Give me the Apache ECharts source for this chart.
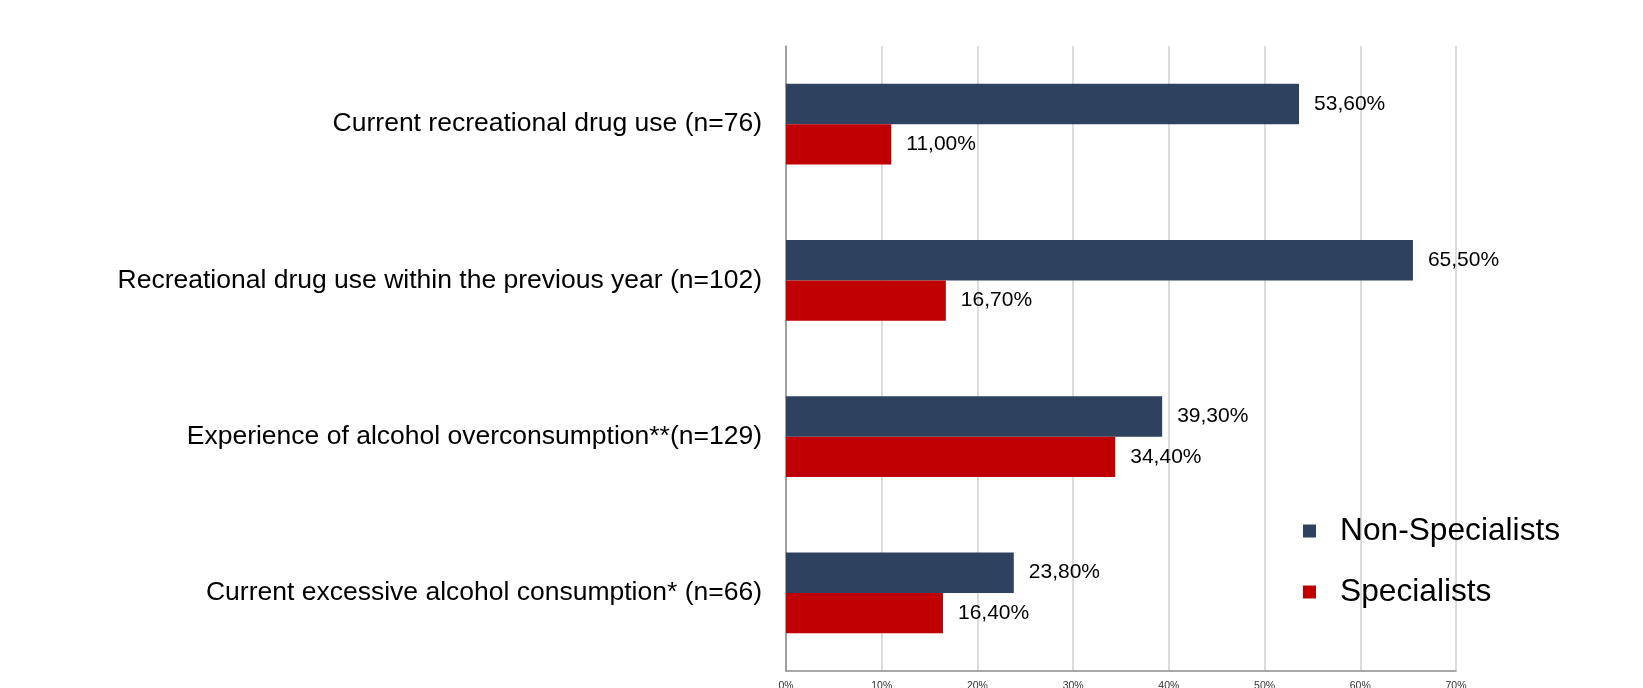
<!DOCTYPE html>
<html>
<head>
<meta charset="utf-8">
<script src="https://cdn.jsdelivr.net/npm/echarts@6/dist/echarts.min.js"></script>
<style>
html,body{margin:0;padding:0;background:#fff;}
#chart{width:1643px;height:688px;}
</style>
</head>
<body>
<div id="chart"></div>
<script>
const categories = [
  "Current recreational drug use (n=76)",
  "Recreational drug use within the previous year (n=102)",
  "Experience of alcohol overconsumption**(n=129)",
  "Current excessive alcohol consumption* (n=66)"
];
const seriesNames = ["Non-Specialists", "Specialists"];
const nonSpecialists = [53.6, 65.5, 39.3, 23.8];
const specialists = [11.0, 16.7, 34.4, 16.4];
const xTicks = [0, 10, 20, 30, 40, 50, 60, 70];

const FONT = "'Liberation Sans', Arial, sans-serif";
const fmt = v => v.toFixed(2).replace('.', ',') + '%';

const chart = echarts.init(document.getElementById('chart'), null, {renderer: 'canvas'});
chart.setOption({
  animation: false,
  backgroundColor: '#fff',
  textStyle: {fontFamily: FONT},
  grid: {left: 786, right: 187, top: 46, bottom: 17, containLabel: false, outerBoundsMode: 'none'},
  legend: {
    orient: 'vertical',
    left: 1298,
    top: 510,
    itemWidth: 13,
    itemHeight: 13,
    itemGap: 29,
    icon: 'rect',
    textStyle: {fontSize: 31.7, color: '#000', fontFamily: FONT, padding: [0, 0, 0, 19]},
    data: seriesNames
  },
  xAxis: {
    type: 'value',
    min: xTicks[0],
    max: xTicks[xTicks.length - 1],
    interval: 10,
    axisLine: {show: true, lineStyle: {color: '#8c8c8c', width: 1.5}},
    axisTick: {show: false},
    splitLine: {show: true, lineStyle: {color: '#dcdcdc', width: 2}},
    axisLabel: {fontSize: 10.5, color: '#333', margin: 10, fontFamily: FONT, formatter: v => v + '%'}
  },
  yAxis: {
    type: 'category',
    data: categories,
    inverse: true,
    axisLine: {show: true, lineStyle: {color: '#8c8c8c', width: 1.5}},
    axisTick: {show: false},
    splitLine: {show: false},
    axisLabel: {fontSize: 26.5, color: '#000', margin: 24, fontFamily: FONT}
  },
  series: [
    {
      name: seriesNames[0],
      type: 'bar',
      data: nonSpecialists,
      barGap: '0%',
      barCategoryGap: '48.2%',
      itemStyle: {color: '#2E425F'},
      label: {show: true, position: 'right', distance: 15, fontSize: 21, color: '#000', fontFamily: FONT, formatter: p => fmt(p.value)}
    },
    {
      name: seriesNames[1],
      type: 'bar',
      data: specialists,
      barGap: '0%',
      barCategoryGap: '48.2%',
      itemStyle: {color: '#C00000'},
      label: {show: true, position: 'right', distance: 15, fontSize: 21, color: '#000', fontFamily: FONT, formatter: p => fmt(p.value)}
    }
  ]
});
</script>
</body>
</html>
